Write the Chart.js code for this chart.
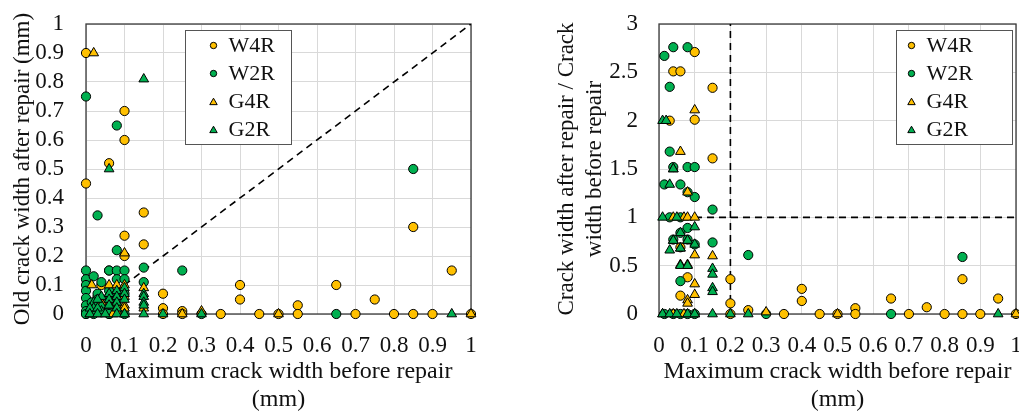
<!DOCTYPE html>
<html>
<head>
<meta charset="utf-8">
<script src="https://cdn.jsdelivr.net/npm/chart.js@4.4.0/dist/chart.umd.min.js"></script>
<style>
  html, body { margin: 0; padding: 0; background: #fff; }
  body { width: 1019px; height: 412px; overflow: hidden; position: relative; }
  canvas { position: absolute; top: 0; }
  #left { left: 0; }
  #right { left: 505px; }
</style>
</head>
<body>
<canvas id="left" width="500" height="412"></canvas>
<canvas id="right" width="525" height="412"></canvas>
<script>
'use strict';

// ── Data ─────────────────────────────────────────────────────────────────────
const seriesNames = ['W4R', 'W2R', 'G4R', 'G2R'];
const xTicks = [0, 0.1, 0.2, 0.3, 0.4, 0.5, 0.6, 0.7, 0.8, 0.9, 1];
const oldTicks = [0, 0.1, 0.2, 0.3, 0.4, 0.5, 0.6, 0.7, 0.8, 0.9, 1];
const ratioTicks = [0, 0.5, 1, 1.5, 2, 2.5, 3];

// left panel: old crack width after repair (mm) vs max crack width before repair
const oldW4R = [
  [0, 0.9], [0, 0.45], [0.1, 0.7], [0.1, 0.6], [0.06, 0.52], [0.15, 0.35], [0.1, 0.27],
  [0.15, 0.24], [0.1, 0.2], [0.06, 0.15], [0.04, 0.1], [0.03, 0.06], [0.06, 0.04],
  [0.06, 0.01], [0.08, 0.03], [0.2, 0.07], [0.2, 0.02], [0.25, 0.01], [0.4, 0.1],
  [0.4, 0.05], [0.55, 0.03], [0.65, 0.1], [0.75, 0.05], [0.85, 0.3], [0.95, 0.15],
  [0, 0], [0.06, 0], [0.2, 0], [0.25, 0], [0.35, 0], [0.45, 0], [0.5, 0], [0.55, 0],
  [0.7, 0], [0.8, 0], [0.85, 0], [0.9, 0], [1, 0]
];
const oldW2R = [
  [0, 0.75], [0.08, 0.65], [0.03, 0.34], [0.08, 0.22], [0.06, 0.15], [0.08, 0.15], [0.1, 0.15],
  [0.08, 0.12], [0.1, 0.12], [0.15, 0.16], [0.15, 0.11], [0.25, 0.15], [0.85, 0.5],
  [0, 0.15], [0, 0.12], [0, 0.1], [0, 0.08], [0, 0.055], [0, 0.03], [0, 0.01], [0, 0],
  [0.02, 0.13], [0.015, 0.04], [0.04, 0.11], [0.03, 0.07], [0.03, 0.05], [0.03, 0.03],
  [0.06, 0.08], [0.06, 0.06], [0.06, 0.02], [0.08, 0.07], [0.08, 0.06], [0.1, 0.07],
  [0.02, 0], [0.06, 0], [0.1, 0], [0.3, 0], [0.65, 0]
];
const oldG4R = [
  [0.02, 0.9], [0.1, 0.21], [0.015, 0.1], [0.06, 0.1], [0.08, 0.1], [0.1, 0.1],
  [0.06, 0.05], [0.08, 0.06], [0.1, 0.06], [0.15, 0.09], [0.1, 0.03], [0.1, 0.02],
  [0.08, 0.01], [0.04, 0.04], [0.06, 0.03], [0.08, 0.04], [0.15, 0.02],
  [0.01, 0], [0.04, 0], [0.07, 0], [0.1, 0], [0.25, 0], [0.3, 0.01], [0.5, 0], [1, 0]
];
const oldG2R = [
  [0.15, 0.81], [0.06, 0.5], [0.15, 0.07], [0.15, 0.06], [0.15, 0.04], [0.15, 0.03],
  [0.02, 0.04], [0.02, 0.02], [0.04, 0.06], [0.04, 0.03], [0.04, 0.01], [0.06, 0.07],
  [0.06, 0.05], [0.06, 0.03], [0.08, 0.08], [0.08, 0.06], [0.08, 0.04], [0.08, 0.02],
  [0.1, 0.09], [0.1, 0.07], [0.1, 0.05], [0.01, 0.02], [0.03, 0.02], [0.03, 0.05],
  [0.01, 0], [0.03, 0], [0.05, 0], [0.08, 0], [0.1, 0], [0.15, 0], [0.2, 0], [0.3, 0], [0.95, 0]
];

// right panel: crack width after repair / crack width before repair
const ratioW4R = [
  [0.03, 2.0], [0.04, 2.51], [0.06, 2.51], [0.06, 0.69], [0.06, 0.19], [0.08, 0.38],
  [0.1, 2.71], [0.1, 2.01], [0.15, 2.34], [0.15, 1.61], [0.2, 0.36], [0.2, 0.11],
  [0.25, 0.04], [0.4, 0.26], [0.4, 0.135], [0.55, 0.06], [0.65, 0.16], [0.75, 0.07],
  [0.85, 0.36], [0.95, 0.16],
  [0.2, 0], [0.35, 0], [0.45, 0], [0.5, 0], [0.55, 0], [0.7, 0], [0.8, 0], [0.85, 0],
  [0.9, 0], [1, 0]
];
const ratioW2R = [
  [0.015, 2.67], [0.04, 2.76], [0.08, 2.76], [0.03, 2.35], [0.03, 1.68], [0.04, 1.52],
  [0.08, 1.52], [0.1, 1.52], [0.015, 1.34], [0.06, 1.34], [0.08, 1.26], [0.1, 1.21],
  [0.15, 1.08], [0.03, 1.0], [0.06, 1.0], [0.08, 0.89], [0.06, 0.84], [0.04, 0.77],
  [0.08, 0.77], [0.1, 0.72], [0.15, 0.74], [0.06, 0.34], [0.25, 0.61], [0.85, 0.59],
  [0.015, 0], [0.04, 0], [0.06, 0], [0.08, 0], [0.1, 0], [0.3, 0], [0.65, 0]
];
const ratioG4R = [
  [0.1, 2.11], [0.06, 1.68], [0.04, 1.5], [0.08, 1.26], [0.04, 1.0], [0.07, 1.0],
  [0.08, 1.0], [0.1, 1.0], [0.04, 0.76], [0.08, 0.76], [0.06, 0.68], [0.1, 0.61],
  [0.15, 0.6], [0.06, 0.51], [0.08, 0.51], [0.1, 0.31], [0.1, 0.2], [0.08, 0.145],
  [0.08, 0.11],
  [0.01, 0], [0.04, 0], [0.07, 0], [0.1, 0], [0.3, 0.02], [0.5, 0], [1, 0]
];
const ratioG2R = [
  [0.01, 2.0], [0.02, 2.0], [0.04, 1.5], [0.03, 1.34], [0.01, 1.0], [0.05, 1.0],
  [0.1, 0.9], [0.06, 0.84], [0.04, 0.76], [0.08, 0.76], [0.03, 0.66], [0.06, 0.68],
  [0.1, 0.72], [0.06, 0.5], [0.08, 0.5], [0.15, 0.47], [0.15, 0.41], [0.15, 0.27],
  [0.15, 0.23],
  [0.01, 0], [0.03, 0], [0.05, 0], [0.08, 0], [0.1, 0], [0.15, 0], [0.2, 0], [0.25, 0], [0.95, 0]
];

// dashed reference lines
const diagLine = [[0, 0], [1, 1]];
const limitV = [[0.2, 0], [0.2, 3]];
const limitH = [[0, 1], [1, 1]];

// ── Styling helpers ──────────────────────────────────────────────────────────
const SERIF = '"Liberation Serif", "Times New Roman", serif';
const YELLOW = '#FFC000';
const GREEN = '#00B050';
const INK = '#111';

function pts(arr) { return arr.map(p => ({ x: p[0], y: p[1] })); }

function scatterSet(label, arr, color, shape, order) {
  return {
    label,
    data: pts(arr),
    backgroundColor: color,
    borderColor: '#000',
    borderWidth: 1,
    pointStyle: shape,
    pointRadius: shape === 'triangle' ? 5.6 : 4.6,
    pointHoverRadius: shape === 'triangle' ? 5.6 : 4.6,
    order,
    clip: false,
  };
}

function dashSet(arr) {
  return {
    type: 'line',
    data: pts(arr),
    borderColor: '#000',
    borderWidth: 1.6,
    borderDash: [7, 5],
    pointRadius: 0,
    fill: false,
    order: 10,
  };
}

function seriesSets(w4, w2, g4, g2) {
  return [
    scatterSet(seriesNames[0], w4, YELLOW, 'circle', 4),
    scatterSet(seriesNames[1], w2, GREEN, 'circle', 3),
    scatterSet(seriesNames[2], g4, YELLOW, 'triangle', 2),
    scatterSet(seriesNames[3], g2, GREEN, 'triangle', 1),
  ];
}

function marker(ctx, shape, x, y, r) {
  ctx.beginPath();
  if (shape === 'triangle') {
    for (let i = 0; i < 3; i++) {
      const a = i * 2 * Math.PI / 3;
      const px = x + Math.sin(a) * r, py = y - Math.cos(a) * r;
      i ? ctx.lineTo(px, py) : ctx.moveTo(px, py);
    }
    ctx.closePath();
  } else {
    ctx.arc(x, y, r, 0, Math.PI * 2);
  }
  ctx.fill();
  ctx.stroke();
}

// frame round the plot area + boxed legend inside it
const framePlugin = {
  id: 'frame',
  beforeDatasetsDraw(chart) {
    const { ctx, chartArea: a } = chart;
    ctx.save();
    ctx.strokeStyle = '#3a3a3a';
    ctx.lineWidth = 1.3;
    ctx.strokeRect(a.left, a.top, a.right - a.left, a.bottom - a.top);
    ctx.restore();
  },
  afterDatasetsDraw(chart, args, o) {
    const { ctx, chartArea: a } = chart;
    const bx = Math.round(a.left + o.x) + 0.5, by = Math.round(a.top + o.y) + 0.5;
    ctx.save();
    ctx.fillStyle = '#fff';
    ctx.fillRect(bx, by, o.w, o.h);
    ctx.strokeStyle = '#555';
    ctx.lineWidth = 1;
    ctx.strokeRect(bx, by, o.w, o.h);
    ctx.font = '22px ' + SERIF;
    ctx.textBaseline = 'middle';
    chart.data.datasets.filter(d => d.label).forEach((d, i) => {
      const cy = by + o.rowTop + i * o.rowGap;
      ctx.fillStyle = d.backgroundColor;
      ctx.strokeStyle = '#000';
      ctx.lineWidth = 1;
      marker(ctx, d.pointStyle, bx + o.markX, cy + (d.pointStyle === 'triangle' ? 1 : 0),
             d.pointStyle === 'triangle' ? 4.3 : 3.2);
      ctx.fillStyle = INK;
      ctx.fillText(d.label, bx + o.textX, cy + 1);
    });
    ctx.restore();
  },
};

function axisX() {
  return {
    type: 'linear', min: 0, max: 1,
    afterBuildTicks: s => { s.ticks = xTicks.map(v => ({ value: v })); },
    // fixed axis height; no extra side padding for end labels
    afterFit: s => { s.height = 98; s.paddingLeft = 0; s.paddingRight = 0; },
    grid: { color: '#d9d9d9', lineWidth: 1, drawTicks: false },
    border: { display: false },
    ticks: {
      autoSkip: false, maxRotation: 0, padding: 18, color: INK,
      font: { family: SERIF, size: 23 },
      callback: v => String(v),
    },
    title: {
      display: true,
      text: ['Maximum crack width before repair', '(mm)'],
      color: INK,
      font: { family: SERIF, size: 24, lineHeight: 28 / 24 },
      padding: { top: 0, bottom: -2 },
    },
  };
}

function axisY(max, ticks, width, text, titleTop, tickPad) {
  return {
    type: 'linear', min: 0, max,
    afterBuildTicks: s => { s.ticks = ticks.map(v => ({ value: v })); },
    afterFit: s => { s.width = width; s.paddingTop = 0; s.paddingBottom = 0; },
    grid: { color: '#d9d9d9', lineWidth: 1, drawTicks: false },
    border: { display: false },
    ticks: {
      autoSkip: false, padding: tickPad, color: INK,
      font: { family: SERIF, size: 23 },
      callback: v => String(v),
    },
    title: {
      display: true, text, color: INK,
      font: { family: SERIF, size: 23, lineHeight: 28 / 23 },
      padding: { top: titleTop, bottom: 0 },
    },
  };
}

function baseOptions(padRight, yAxis, legendPos) {
  return {
    responsive: false,
    animation: false,
    events: [],
    layout: { padding: { top: 24, right: padRight, left: 0, bottom: 0 } },
    scales: { x: axisX(), y: yAxis },
    plugins: {
      legend: { display: false },
      tooltip: { enabled: false },
      frame: legendPos,
    },
  };
}

// ── Left: old crack width after repair ──────────────────────────────────────
new Chart(document.getElementById('left'), {
  type: 'scatter',
  data: { datasets: [...seriesSets(oldW4R, oldW2R, oldG4R, oldG2R), dashSet(diagLine)] },
  options: baseOptions(29,
    axisY(1, oldTicks, 86, 'Old crack width after repair (mm)', 9, 22),
    { x: 99, y: 6, w: 106, h: 114, rowTop: 15, rowGap: 28, markX: 28, textX: 43 }),
  plugins: [framePlugin],
});

// ── Right: ratio after / before ──────────────────────────────────────────────
new Chart(document.getElementById('right'), {
  type: 'scatter',
  data: { datasets: [...seriesSets(ratioW4R, ratioW2R, ratioG4R, ratioG2R), dashSet(limitV), dashSet(limitH)] },
  options: baseOptions(14,
    axisY(3, ratioTicks, 154, ['Crack width after repair / Crack', 'width before repair'], 48, 21),
    { x: 237, y: 6, w: 116, h: 114, rowTop: 15, rowGap: 28, markX: 15, textX: 30 }),
  plugins: [framePlugin],
});
</script>
</body>
</html>
